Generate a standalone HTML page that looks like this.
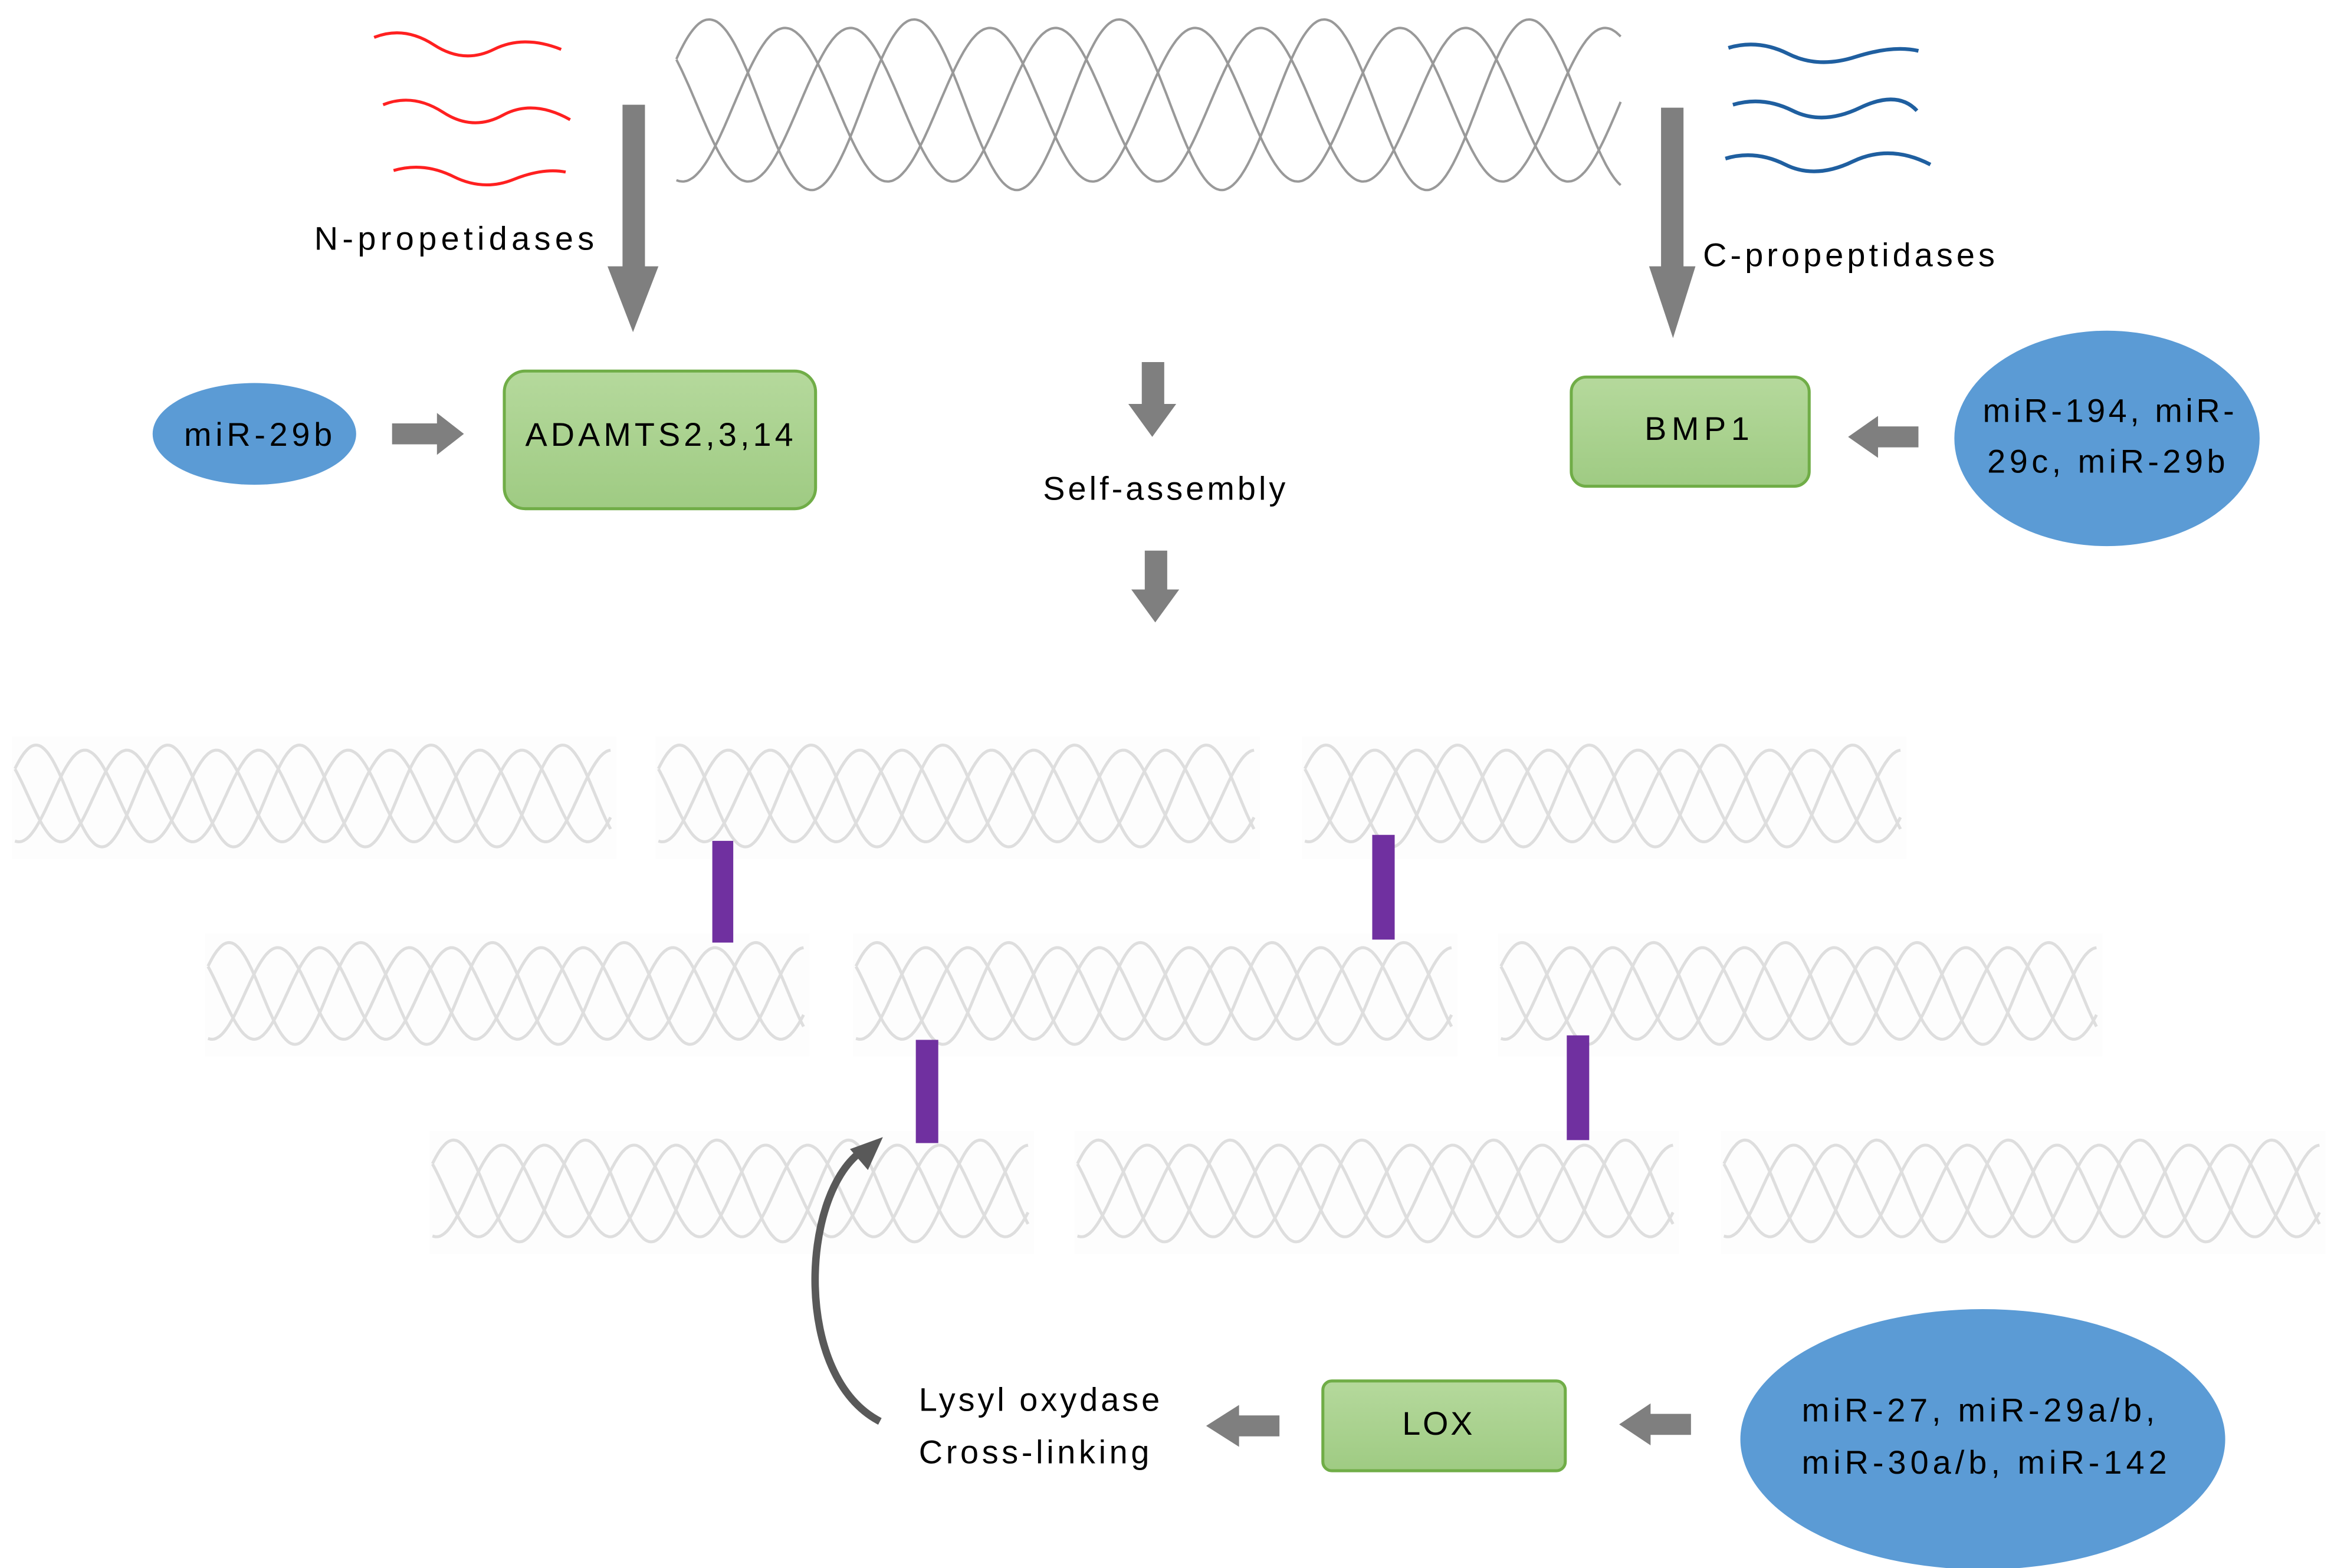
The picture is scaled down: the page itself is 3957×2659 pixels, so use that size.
<!DOCTYPE html>
<html><head><meta charset="utf-8"><style>
html,body{margin:0;padding:0;background:#fff;}
svg{display:block;}
text{font-family:"Liberation Sans",sans-serif;font-size:22px;fill:#000;}
</style></head><body>
<svg id="s" width="3957" height="2659" viewBox="0 0 1559.7 1048" preserveAspectRatio="none" xmlns="http://www.w3.org/2000/svg">
<defs>
<linearGradient id="g" x1="0" y1="0" x2="0" y2="1"><stop offset="0" stop-color="#b5d99c"/><stop offset="1" stop-color="#9fcb83"/></linearGradient>
</defs>
<g id="bg" fill="#fdfdfd"></g>
<g id="helix"></g>
<g fill="none" stroke="#ff2020" stroke-width="2">
<path d="M250,25 q20,-8 40,5 t40,3 t45,0"/>
<path d="M256,70 q20,-8 40,5 t40,2 t45,3"/>
<path d="M263,114 q20,-6 40,4 t40,2 t35,-5"/>
</g>
<g fill="none" stroke="#1f5fa0" stroke-width="2.5">
<path d="M1155,32 q20,-6 40,4 t45,2 t42,-4"/>
<path d="M1158,70 q20,-6 40,4 t45,-2 t38,2"/>
<path d="M1153,106 q20,-6 40,4 t45,-2 t52,2"/>
</g>
<g fill="#7f7f7f">
<polygon points="416,70 431,70 431,178 440,178 423,222 406,178 416,178"/>
<polygon points="1110,72 1125,72 1125,178 1133,178 1118,226 1102,178 1110,178"/>
<polygon points="262,283 292,283 292,276 310,290 292,304 292,297 262,297"/>
<polygon points="1282,285 1255,285 1255,278 1235,292 1255,306 1255,299 1282,299"/>
<polygon points="763,242 778,242 778,270 786,270 770,292 754,270 763,270"/>
<polygon points="765,368 780,368 780,394 788,394 772,416 756,394 765,394"/>
<polygon points="855,946 828,946 828,939 806,953 828,967 828,960 855,960"/>
<polygon points="1130,945 1103,945 1103,938 1082,952 1103,966 1103,959 1130,959"/>
</g>
<g fill="#7030a0">
<rect x="476" y="562" width="14" height="68"/>
<rect x="917" y="558" width="15" height="70"/>
<rect x="612" y="695" width="15" height="69"/>
<rect x="1047" y="692" width="15" height="70"/>
</g>
<path d="M588,950 C530,920 535,800 575,770" fill="none" stroke="#595959" stroke-width="5"/>
<polygon points="590,760 568,768 580,782" fill="#595959"/>
<rect x="337" y="248" width="208" height="92" rx="14" fill="url(#g)" stroke="#70ad47" stroke-width="2"/>
<rect x="1050" y="252" width="159" height="73" rx="10" fill="url(#g)" stroke="#70ad47" stroke-width="2"/>
<rect x="884" y="923" width="162" height="60" rx="6" fill="url(#g)" stroke="#70ad47" stroke-width="2"/>
<g fill="#5b9bd5">
<ellipse cx="170" cy="290" rx="68" ry="34"/>
<ellipse cx="1408" cy="293" rx="102" ry="72"/>
<ellipse cx="1325" cy="962" rx="162" ry="87"/>
</g>
<text x="210" y="167" textLength="187" lengthAdjust="spacing">N-propetidases</text>
<text x="1138" y="178" textLength="195" lengthAdjust="spacing">C-propeptidases</text>
<text x="123" y="298" textLength="99" lengthAdjust="spacing">miR-29b</text>
<text x="351" y="298" textLength="179" lengthAdjust="spacing">ADAMTS2,3,14</text>
<text x="1099" y="294" textLength="70" lengthAdjust="spacing">BMP1</text>
<text x="1325" y="282" textLength="168" lengthAdjust="spacing">miR-194, miR-</text>
<text x="1328" y="316" textLength="159" lengthAdjust="spacing">29c, miR-29b</text>
<text x="697" y="334" textLength="162" lengthAdjust="spacing">Self-assembly</text>
<text x="614" y="943" textLength="161" lengthAdjust="spacing">Lysyl oxydase</text>
<text x="614" y="978" textLength="154" lengthAdjust="spacing">Cross-linking</text>
<text x="937" y="959" textLength="47" lengthAdjust="spacing">LOX</text>
<text x="1204" y="950" textLength="236" lengthAdjust="spacing">miR-27, miR-29a/b,</text>
<text x="1204" y="985" textLength="244" lengthAdjust="spacing">miR-30a/b, miR-142</text>
</svg>
<script>
(function(){
var g=document.getElementById('helix');var bg=document.getElementById('bg');var ns='http://www.w3.org/2000/svg';
function helix(x0,x1,yc,amp,per,col,sw){
 for(var k=0;k<3;k++){
  var ph=[0,0.37,0.69][k]*per, a=amp*(k==0?1:0.9);
  var d='';
  for(var x=x0;x<=x1;x+=1){
   var y=yc-a*Math.cos(2*Math.PI*(x-x0-ph-per*0.16)/per);
   d+=(x==x0?'M':'L')+x.toFixed(1)+','+y.toFixed(1);
  }
  var p=document.createElementNS(ns,'path');p.setAttribute('d',d);p.setAttribute('fill','none');
  p.setAttribute('stroke',col);p.setAttribute('stroke-width',sw);g.appendChild(p);
 }
}
helix(452,1083,70,57,137,'#999999',1.6);
var rows=[[532,[10,440,872]],[664,[139,572,1003]],[796,[289,720,1152]]];
rows.forEach(function(r){r[1].forEach(function(x){
 var rc=document.createElementNS(ns,'rect');rc.setAttribute('x',x-2);rc.setAttribute('y',r[0]-40);rc.setAttribute('width',404);rc.setAttribute('height',82);bg.appendChild(rc);
 helix(x,x+398,r[0],34,88,'#dedede',2);});});
})();
</script>
</body></html>
